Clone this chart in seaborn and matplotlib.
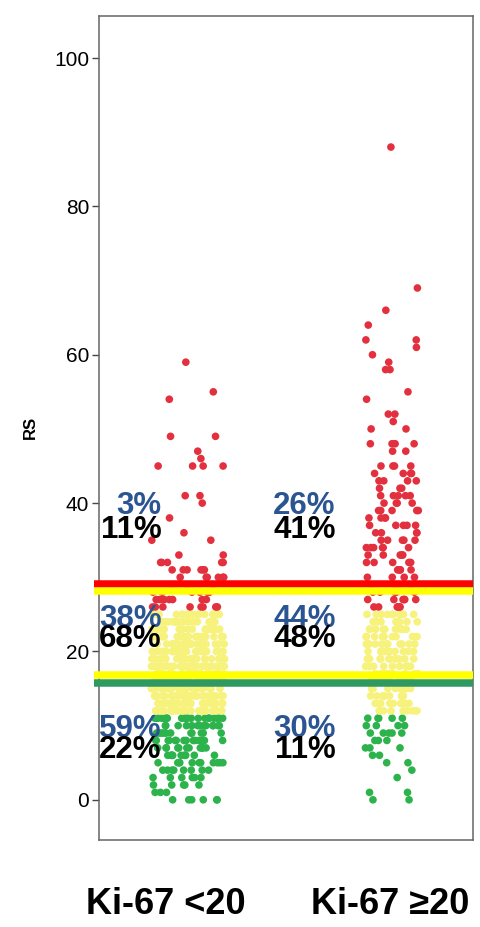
import numpy as np
import pandas as pd
import matplotlib
matplotlib.use("Agg")
import matplotlib.pyplot as plt
import matplotlib.transforms as mtransforms
import seaborn as sns

# ---------------- data ----------------
categories = ["Ki-67 <20", "Ki-67 \u226520"]

# RS value -> number of patients, Ki-67 <20
rs_low = [0, 1, 2, 3, 4, 5, 6, 7, 8, 9, 10, 11,
          12, 13, 14, 15, 16, 17, 18, 19, 20, 21, 22, 23, 24, 25,
          26, 27, 28, 29, 30, 31, 32, 33, 35, 36, 38, 40, 41, 45, 46, 47, 49, 54, 55, 59]
n_low = [6, 3, 5, 6, 8, 11, 11, 12, 14, 12, 14, 20,
         30, 30, 32, 32, 32, 30, 30, 28, 28, 26, 24, 22, 22, 20,
         8, 8, 6, 5, 6, 6, 5, 2, 2, 1, 1, 1, 2, 4, 1, 1, 2, 1, 1, 1]

# RS value -> number of patients, Ki-67 >=20
rs_high = [0, 1, 3, 4, 5, 6, 7, 8, 9, 10, 11,
           12, 13, 14, 15, 16, 17, 18, 19, 20, 21, 22, 23, 24, 25,
           26, 27, 28, 29, 30, 31, 32, 33, 34, 35, 36, 37, 38, 39, 40, 41, 42, 43, 44, 45,
           47, 48, 50, 51, 52, 54, 55, 58, 59, 60, 61, 62, 64, 66, 69, 88]
n_high = [2, 2, 1, 1, 2, 2, 3, 3, 5, 4, 5,
          9, 10, 10, 10, 11, 11, 11, 11, 11, 11, 10, 10, 10, 10,
          6, 6, 5, 5, 4, 5, 5, 5, 6, 5, 4, 5, 4, 5, 4, 5, 3, 4, 4, 4,
          2, 4, 2, 1, 2, 1, 1, 2, 1, 1, 1, 2, 1, 1, 1, 1]

# threshold lines (value, colour)
line_values = [29.1, 28.1, 16.8, 15.8]
line_colors = ["#FF0000", "#FFFF00", "#FFFF00", "#2E9A62"]

# percentage annotations per band (high, intermediate, low), per group
band_blue_y = [38.5, 23.3, 8.5]
band_black_y = [35.3, 20.6, 5.7]
pct_blue_low = ["3%", "38%", "59%"]
pct_black_low = ["11%", "68%", "22%"]
pct_blue_high = ["26%", "44%", "30%"]
pct_black_high = ["41%", "48%", "11%"]

yticks = [0, 20, 40, 60, 80, 100]

# ---------------- frame ----------------
rs = np.concatenate([np.repeat(rs_low, n_low), np.repeat(rs_high, n_high)])
grp = np.concatenate([np.repeat(categories[0], sum(n_low)),
                      np.repeat(categories[1], sum(n_high))])
df = pd.DataFrame({"group": grp, "RS": rs})
df["risk"] = np.where(df["RS"] >= 26, "high",
                      np.where(df["RS"] >= 12, "mid", "low"))
palette = {"high": "#E3303E", "mid": "#F6F27C", "low": "#2DB34C"}

sns.set_theme(style="white")
plt.rcParams["font.family"] = ["Liberation Sans", "DejaVu Sans"]
plt.rcParams["text.color"] = "black"
plt.rcParams["xtick.color"] = "black"
plt.rcParams["ytick.color"] = "black"
plt.rcParams["axes.labelcolor"] = "black"

fig = plt.figure(figsize=(4.81, 9.27), dpi=100)
ax = fig.add_axes([0.206, 0.094, 0.777, 0.889])

np.random.seed(3)
for cat, jit in zip(categories, [0.18, 0.13]):
    sns.stripplot(data=df[df["group"] == cat], x="group", y="RS", hue="risk",
                  order=categories, palette=palette, jitter=jit, size=5.5,
                  linewidth=0, legend=False, ax=ax, zorder=2)

for v, c in zip(line_values, line_colors):
    ax.axhline(v, xmin=-0.013, xmax=1.0, color=c, lw=5.4, zorder=5,
               clip_on=False, solid_capstyle="butt")

blue = "#2B5592"
for x, blues, blacks in [(-0.13, pct_blue_low, pct_black_low),
                         (0.725, pct_blue_high, pct_black_high)]:
    for yb, yk, tb, tk in zip(band_blue_y, band_black_y, blues, blacks):
        ax.text(x, yb, tb, color=blue, fontsize=22.5, fontweight="bold",
                ha="right", va="baseline", zorder=6)
        ax.text(x, yk, tk, color="black", fontsize=22.5, fontweight="bold",
                ha="right", va="baseline", zorder=7)

ax.set_xlim(-0.436, 1.397)
ax.set_ylim(-5.4, 105.7)
ax.set_yticks(yticks)
ax.set_yticklabels([str(t) for t in yticks], fontsize=15)
ax.set_xticks(range(len(categories)))
ax.set_xticklabels([])
ax.tick_params(axis="x", length=0)
ax.tick_params(axis="y", length=5, width=1, color="#444444", pad=2,
               direction="out", left=True, labelcolor="black")

# category captions below the plot
trans = mtransforms.blended_transform_factory(ax.transData, ax.transAxes)
for xpos, lab in zip([-0.108, 0.99], categories):
    ax.text(xpos, -0.078, lab, transform=trans, fontsize=26, fontweight="bold",
            ha="center", va="center", color="black")

ax.set_xlabel("")
ax.set_ylabel("RS", fontsize=12, fontweight="bold", labelpad=12)
for s in ax.spines.values():
    s.set_color("#666666")
    s.set_linewidth(1.1)
    s.set_visible(True)

fig.savefig("out.png", dpi=100)
